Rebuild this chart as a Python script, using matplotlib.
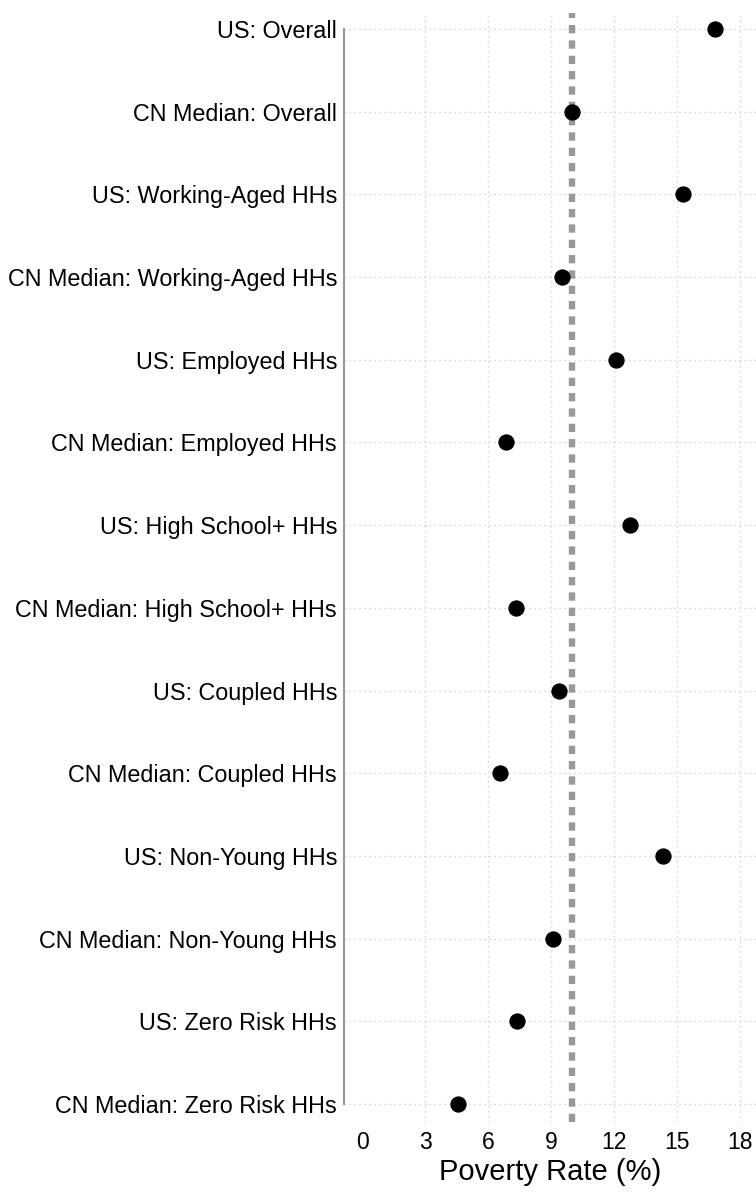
import matplotlib.pyplot as plt

labels = ["US: Overall", "CN Median: Overall",
          "US: Working-Aged HHs", "CN Median: Working-Aged HHs",
          "US: Employed HHs", "CN Median: Employed HHs",
          "US: High School+ HHs", "CN Median: High School+ HHs",
          "US: Coupled HHs", "CN Median: Coupled HHs",
          "US: Non-Young HHs", "CN Median: Non-Young HHs",
          "US: Zero Risk HHs", "CN Median: Zero Risk HHs"]
rates = [16.8, 10.0, 15.3, 9.5, 12.1, 6.85, 12.75, 7.35, 9.4, 6.55, 14.35, 9.1, 7.4, 4.55]
ref_rate = 10.0
xticks = [0, 3, 6, 9, 12, 15, 18]

plt.rcParams['font.family'] = ['Liberation Sans', 'DejaVu Sans']

fig = plt.figure(figsize=(7.56, 11.93), dpi=100)
ax = fig.add_axes([0.455, 0.0593, 0.545, 0.9296])

ypos = list(range(len(labels)))[::-1]

# light dotted grid (no line at 0)
for x in xticks[1:]:
    ax.axvline(x, color='#c8c8c8', lw=0.9, ls=(0, (1, 3)), zorder=0)
for y in ypos:
    ax.axhline(y, color='#c8c8c8', lw=0.9, ls=(0, (1, 3)), zorder=0)

ax.axvline(ref_rate, color='#999999', lw=4.6, ls=(0, (1.3, 1.1)), zorder=1)
ax.scatter(rates, ypos, s=115, color='black', zorder=3)

ax.set_xlim(-0.86, 18.76)
ax.set_ylim(-0.22, len(labels) - 1 + 0.19)
ax.set_xticks(xticks)
ax.set_xticklabels([str(x) for x in xticks], fontsize=16.5)
ax.set_yticks(ypos)
ax.set_yticklabels(labels, fontsize=16.8)
ax.tick_params(length=0, pad=5)
ax.tick_params(axis='x', pad=6)
ax.set_xlabel("Poverty Rate (%)", fontsize=21, labelpad=3)

for s in ['top', 'right', 'bottom']:
    ax.spines[s].set_visible(False)
ax.spines['left'].set_color('#999999')
ax.spines['left'].set_linewidth(1.5)
ax.spines['left'].set_bounds(0, len(labels) - 1)

fig.savefig('out.png', dpi=100)
